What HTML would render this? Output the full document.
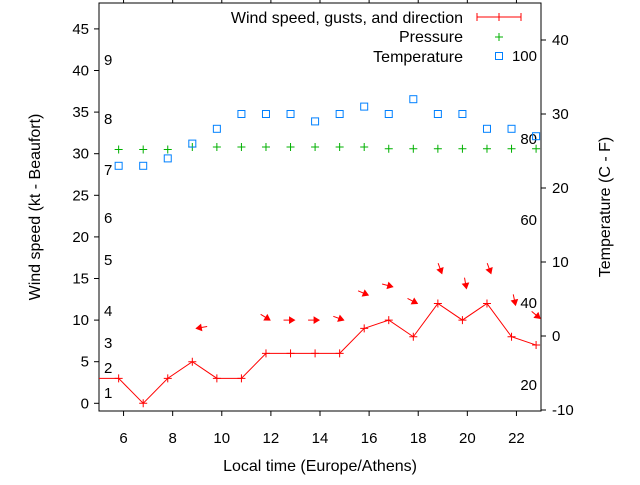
<!DOCTYPE html>
<html><head><meta charset="utf-8"><style>
body{margin:0;background:#fff}
svg{font-family:"Liberation Sans",sans-serif;font-size:15px}
</style></head><body>
<svg id="c" width="640" height="480" viewBox="0 0 640 480" xmlns="http://www.w3.org/2000/svg"></svg>
<script>
const hours=[5.8,6.8,7.8,8.8,9.8,10.8,11.8,12.8,13.8,14.8,15.8,16.8,17.8,18.8,19.8,20.8,21.8,22.8];
const wind=[3,0,3,5,3,3,6,6,6,6,9,10,8,12,10,12,8,7];
const gustHours=[8.8,11.8,12.8,13.8,14.8,15.8,16.8,17.8,18.8,19.8,20.8,21.8,22.8];
const gusts=[9,10,10,10,10,13,14,12,15.6,13.8,15.6,11.8,10.2];
const gustDir=[170,32,0,0,20,23,15,27,70,80,70,78,40];
const pressure=[30.5,30.5,30.5,30.8,30.8,30.8,30.8,30.8,30.8,30.8,30.8,30.6,30.6,30.6,30.6,30.6,30.6,30.6];
const temps=[23,23,24,26,28,30,30,30,29,30,31,30,32,30,30,28,28,27];
const xTicks=[6,8,10,12,14,16,18,20,22];
const yTicks=[0,5,10,15,20,25,30,35,40,45];
const y2Ticks=[-10,0,10,20,30,40];
const beaufort=[["1",393],["2",368],["3",343],["4",311],["5",260],["6",218],["7",170],["8",119],["9",60]];
const fahr=[["20",385],["40",303],["60",220],["80",139],["100",56]];

const L=99,R=541,T=3,B=411;
const X=h=>L+(h-5)*(R-L)/18;
const Y=v=>403.3-v*8.32;
const Y2=v=>336-v*7.4;
const svg=document.getElementById('c');
const NS='http://www.w3.org/2000/svg';
function mk(tag,attrs,parent){const e=document.createElementNS(NS,tag);for(const k in attrs)e.setAttribute(k,attrs[k]);(parent||svg).appendChild(e);return e;}
function txt(s,x,y,anchor,parent){const t=mk('text',{x:x,y:y,'text-anchor':anchor||'start',fill:'#000'},parent);t.textContent=s;return t;}

const frame=mk('rect',{x:L,y:T,width:R-L,height:B-T,fill:'none',stroke:'#000','stroke-width':1});



const gx=mk('g',{});


xTicks.forEach(h=>{
  mk('line',{x1:X(h),x2:X(h),y1:B,y2:B+5,stroke:'#000'},gx);
  mk('line',{x1:X(h),x2:X(h),y1:T,y2:T-4,stroke:'#000'},gx);
  txt(String(h),X(h),443,'middle',gx);
});
const gy=mk('g',{});


yTicks.forEach(v=>{
  mk('line',{x1:L-5,x2:L,y1:Y(v),y2:Y(v),stroke:'#000'},gy);
  txt(String(v),89,Y(v)+5,'end',gy);
});
const gy2=mk('g',{});


y2Ticks.forEach(v=>{
  mk('line',{x1:R,x2:R+5,y1:Y2(v),y2:Y2(v),stroke:'#000'},gy2);
  txt(String(v),552,Y2(v)+5,'start',gy2);
});
const gb=mk('g',{});


beaufort.forEach(b=>txt(b[0],104,b[1]+5,'start',gb));
const gf=mk('g',{});


fahr.forEach(f=>txt(f[0],537,f[1]+5,'end',gf));

const xt=txt('Local time (Europe/Athens)',320,471,'middle');
xt.setAttribute('font-size','16');


const yt=txt('Wind speed (kt - Beaufort)',0,0,'middle');
yt.setAttribute('font-size','16');
yt.setAttribute('transform','translate(40,207) rotate(-90)');


const yt2=txt('Temperature (C - F)',0,0,'middle');
yt2.setAttribute('font-size','16');
yt2.setAttribute('transform','translate(610,207) rotate(-90)');



const gp=mk('g',{stroke:'#00b000','stroke-width':1});


hours.forEach((h,i)=>{const x=X(h),y=Y(pressure[i]);
  mk('path',{d:`M${x-4},${y}H${x+4}M${x},${y-4}V${y+4}`},gp);});
const gt=mk('g',{stroke:'#0080ff',fill:'none','stroke-width':1});


hours.forEach((h,i)=>{mk('rect',{x:X(h)-3.5,y:Y2(temps[i])-3.5,width:7,height:7},gt);});
const gw=mk('g',{stroke:'#f00',fill:'none','stroke-width':1});


let d=`M${L},${Y(wind[0])}`;
hours.forEach((h,i)=>{d+=`L${X(h)},${Y(wind[i])}`;});
mk('path',{d:d},gw);
hours.forEach((h,i)=>{const x=X(h),y=Y(wind[i]);
  mk('path',{d:`M${x-4},${y}H${x+4}M${x},${y-4}V${y+4}`},gw);});
const ga=mk('g',{stroke:'#f00',fill:'#f00','stroke-width':1});


gustHours.forEach((h,i)=>{
  const hx=X(h)+4,hy=Y(gusts[i]);const a=gustDir[i]*Math.PI/180;
  const ux=Math.cos(a),uy=Math.sin(a);
  mk('line',{x1:hx-ux*11,y1:hy-uy*11,x2:hx,y2:hy},ga);
  const px=-uy,py=ux;
  mk('polygon',{points:`${hx},${hy} ${hx-ux*5+px*3},${hy-uy*5+py*3} ${hx-ux*5-px*3},${hy-uy*5-py*3}`},ga);
});
const lg=mk('g',{'font-size':'16'});


txt('Wind speed, gusts, and direction',463,23,'end',lg);
txt('Pressure',463,42,'end',lg);
txt('Temperature',463,62,'end',lg);
mk('path',{d:'M477,17H521M477,13V21M521,13V21M499,13V21',stroke:'#f00',fill:'none'},lg);
mk('path',{d:'M495,37H503M499,33V41',stroke:'#00b000',fill:'none'},lg);
mk('rect',{x:495.5,y:52.5,width:7,height:7,stroke:'#0080ff',fill:'none'},lg);
</script>
</body></html>
